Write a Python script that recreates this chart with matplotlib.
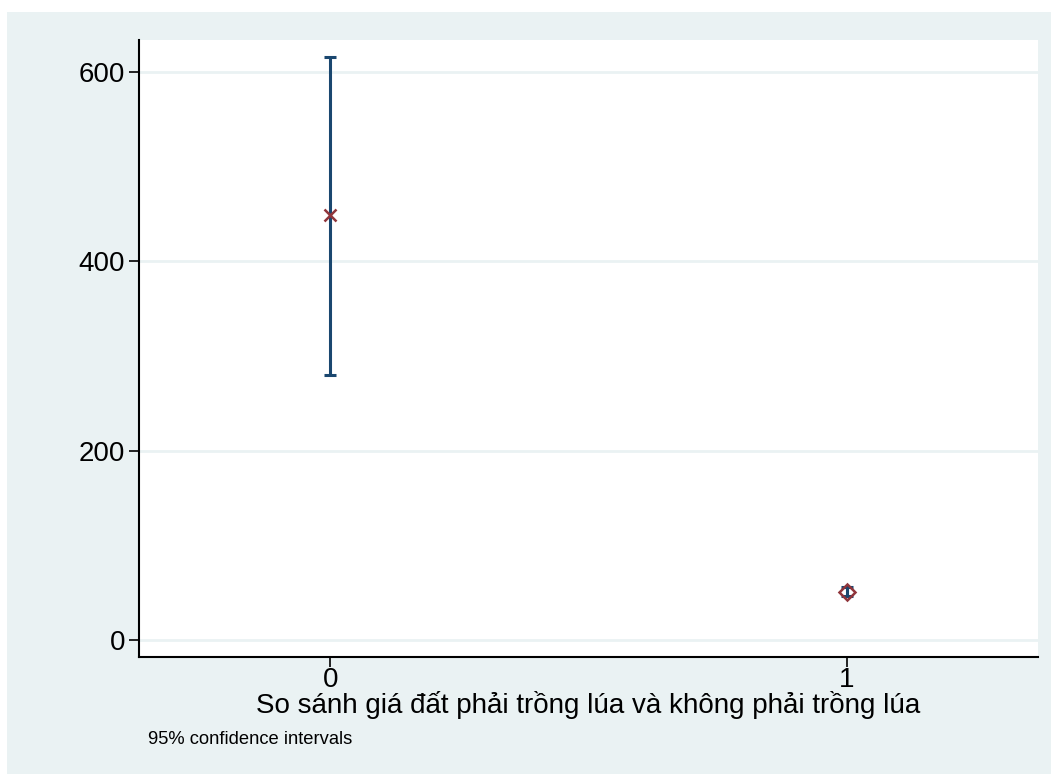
import numpy as np
import matplotlib.pyplot as plt
from matplotlib.patches import Rectangle

plt.rcParams['font.family'] = ['Liberation Sans', 'DejaVu Sans']

# mean land price with 95% CI, by group
groups = [0, 1]
means = [449, 51]
ci_low = [280, 46]
ci_high = [616, 56]
markers = ['x', 'D']
yticks = [0, 200, 400, 600]

bg = '#eaf2f3'
navy = '#1a476f'
maroon = '#90353b'

fig = plt.figure(figsize=(10.51, 7.74), dpi=100)
fig.patch.set_facecolor('white')
fig.add_artist(Rectangle((7 / 1051, 0), 1, 1 - 12 / 774, transform=fig.transFigure,
                         facecolor=bg, edgecolor='none', zorder=-10))

ax = fig.add_axes([139 / 1051, 1 - 657 / 774, (1038 - 139) / 1051, (657 - 40) / 774])
ax.set_facecolor('white')

for y in yticks:
    ax.axhline(y, color=bg, lw=2, zorder=0)

for g, m, lo, hi, mk in zip(groups, means, ci_low, ci_high, markers):
    ax.errorbar([g], [m], yerr=[[m - lo], [hi - m]], fmt='none', ecolor=navy,
                elinewidth=2.2, capsize=4, capthick=2.2, zorder=2)
    if mk == 'x':
        ax.plot([g], [m], marker='x', color=maroon, ms=9, mew=1.8, ls='none', zorder=3)
    else:
        ax.plot([g], [m], marker='D', mfc='none', mec=maroon, ms=8, mew=1.8,
                ls='none', zorder=3)

ax.set_xlim(-0.37, 1.37)
ax.set_ylim(-18, 634)
ax.set_xticks(groups)
ax.set_yticks(yticks)
ax.tick_params(axis='both', labelsize=20, length=7, width=1.2, color='black')
ax.tick_params(axis='y', pad=3)
ax.tick_params(axis='x', pad=0)

for s in ['top', 'right']:
    ax.spines[s].set_visible(False)
for s in ['left', 'bottom']:
    ax.spines[s].set_linewidth(1.5)

ax.set_xlabel('So sánh giá đất phải trồng lúa và không phải trồng lúa', fontsize=20, labelpad=-1)
fig.text(148 / 1051, 1 - 739 / 774, '95% confidence intervals', fontsize=13.2,
         ha='left', va='center')

fig.savefig('out.png', dpi=100, facecolor=fig.get_facecolor())
